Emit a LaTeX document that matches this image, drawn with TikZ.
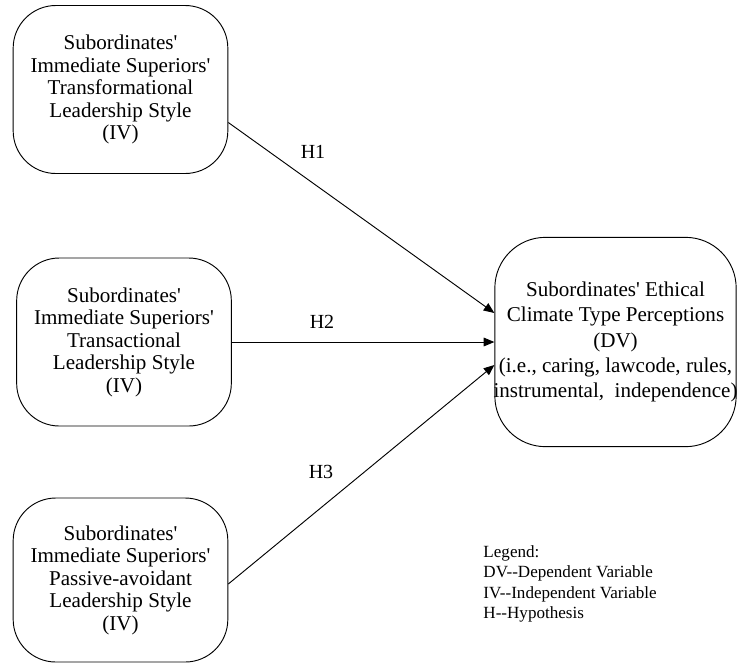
\documentclass[tikz,border=0pt]{standalone}
\usepackage{fontspec}
\setmainfont{Liberation Serif}[Ligatures=TeXOff]
\usetikzlibrary{arrows.meta, calc}

\tikzset{
  ivbox/.style={draw, rounded corners=32pt, minimum width=161pt, minimum height=126pt,
    align=center, inner sep=0pt, font=\fontsize{15.8}{16.9}\selectfont},
  dvbox/.style={draw, rounded corners=38pt, minimum width=181pt, minimum height=157pt},
  hlabel/.style={font=\fontsize{15}{18}\selectfont},
}

\begin{document}
\begin{tikzpicture}[x=0.75pt, y=-0.75pt, >={Triangle[length=8pt,width=6.5pt]}, line width=0.7pt]
    \useasboundingbox (0,0) rectangle (737,665);

    % Independent variables
    \node[ivbox] (trf) at (120.5,89.5) {Subordinates'\\Immediate Superiors'\\Transformational\\Leadership Style\\(IV)};
    \node[ivbox] (trs) at (124,342) {Subordinates'\\Immediate Superiors'\\Transactional\\Leadership Style\\(IV)};
    \node[ivbox, minimum height=123pt] (pas) at (120.5,580) {Subordinates'\\Immediate Superiors'\\Passive-avoidant\\Leadership Style\\(IV)};

    % Dependent variable
    \node[dvbox] (dv) at (615.5,342) {};
    \node[align=center, inner sep=0pt, font=\fontsize{15.8}{19}\selectfont] (dvtext) at (dv.center)
      {Subordinates' Ethical\\Climate Type Perceptions\\(DV)\\(i.e., caring, lawcode, rules,\\instrumental,\ \ independence)};

    % Hypotheses
    \draw[->] ($(trf.east)+(0,33)$) -- ($(dv.west)+(0,-29)$);
    \draw[->] (trs.east) -- (dv.west);
    \draw[->] ($(pas.east)+(0,4)$) -- ($(dv.west)+(0,23)$);
    \node[hlabel] (h1) at (313,152) {H1};
    \node[hlabel] (h2) at (322,322) {H2};
    \node[hlabel] (h3) at (321,472) {H3};

    % Legend
    \node[align=left, anchor=west, inner sep=0pt, font=\fontsize{12.8}{15.2}\selectfont] (legend) at (483,584)
      {Legend:\\DV--Dependent Variable\\IV--Independent Variable\\H--Hypothesis};
\end{tikzpicture}
\end{document}
